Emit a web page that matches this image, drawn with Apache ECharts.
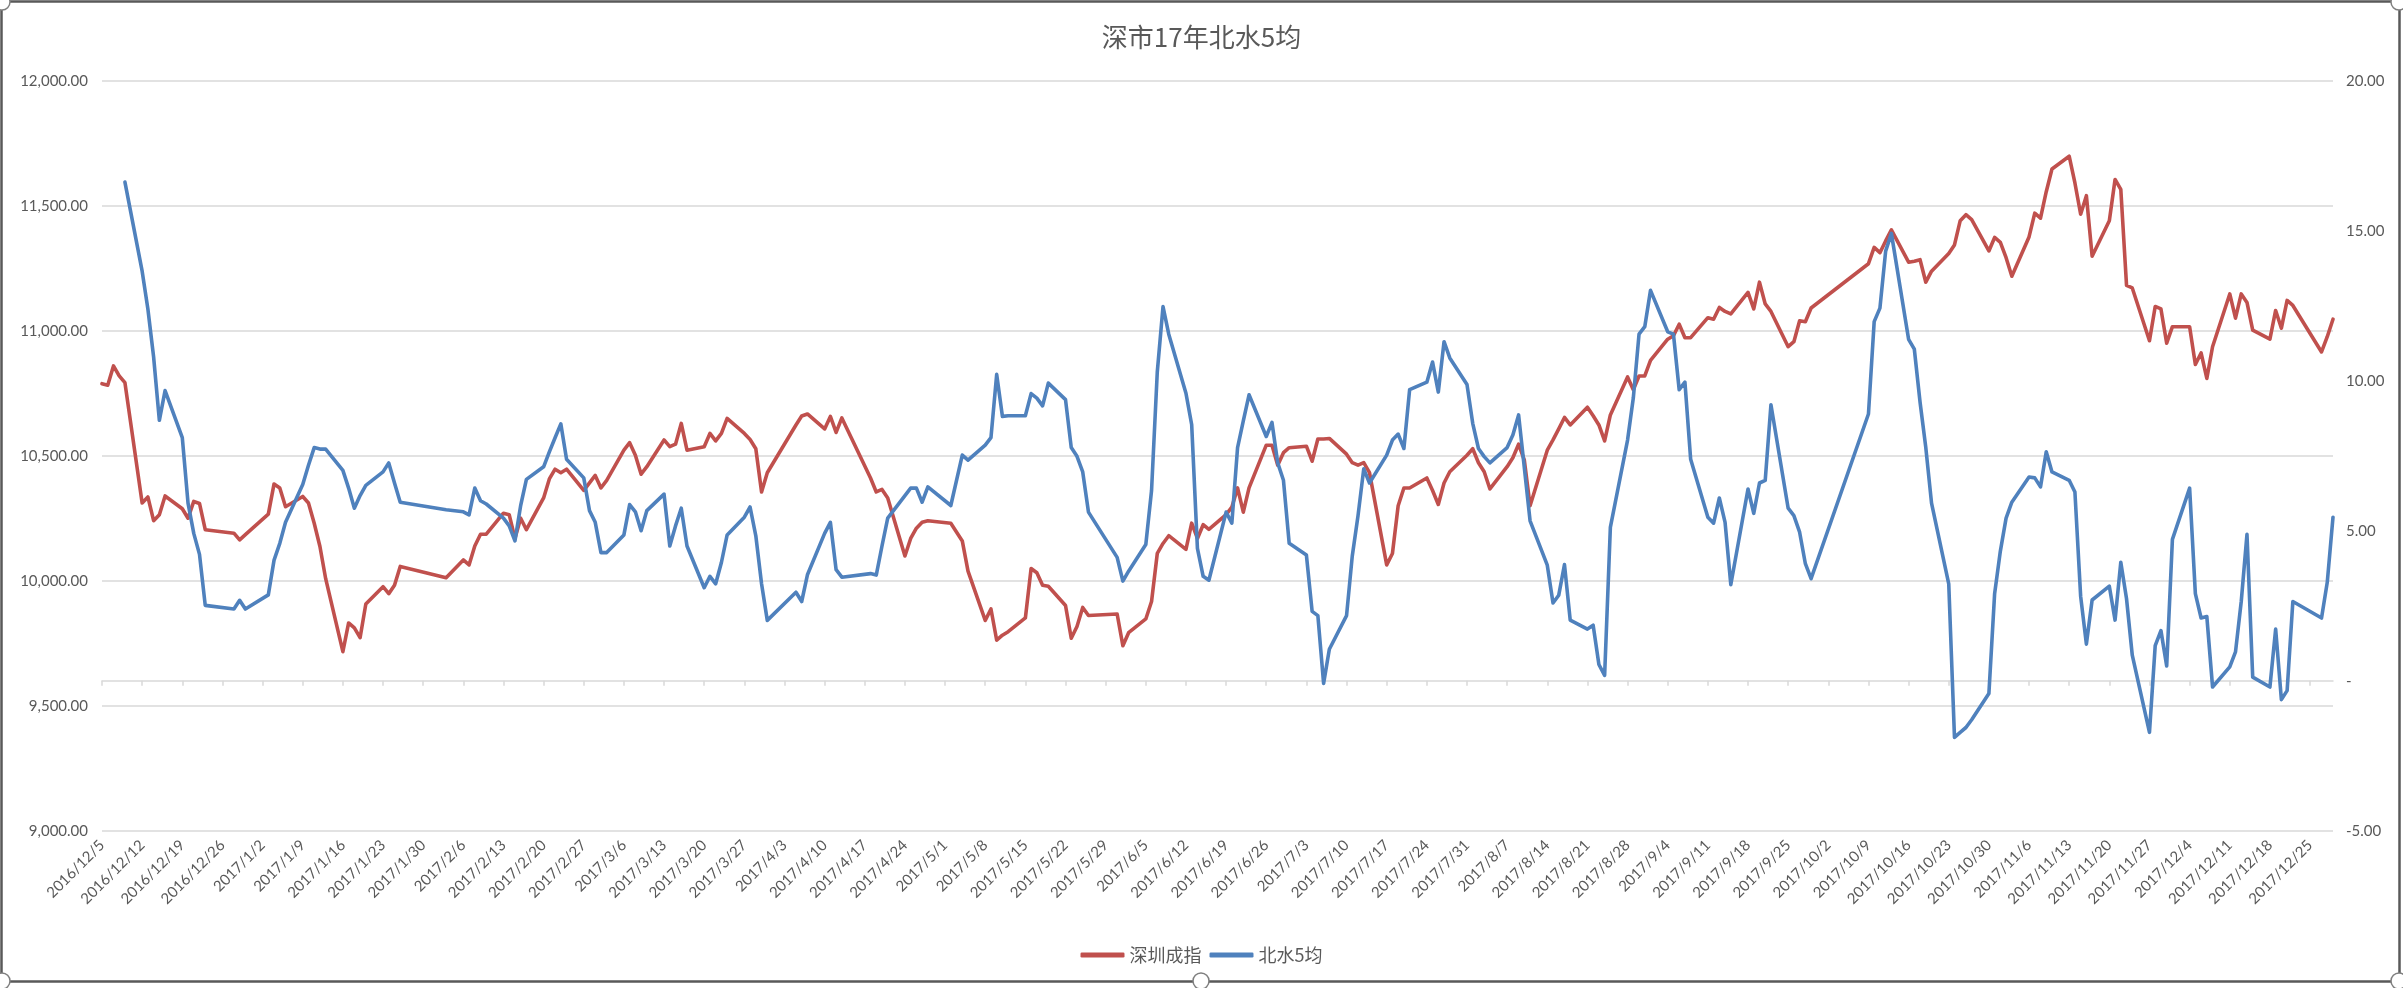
<!DOCTYPE html>
<html><head><meta charset="utf-8">
<script src="https://cdn.jsdelivr.net/npm/echarts@6/dist/echarts.min.js"></script>
<style>html,body{margin:0;padding:0;background:#fff}#c{width:2403px;height:988px}</style>
</head><body><div id="c"></div>
<script>
const chartTitle = '深市17年北水5均';
const seriesNames = ['深圳成指', '北水5均'];
const axisStart = '2016/12/5';
const axisEnd = '2017/12/29';
const tickStepDays = 7;

const dates = [
'2016/12/5','2016/12/6','2016/12/7','2016/12/8','2016/12/9','2016/12/12','2016/12/13','2016/12/14','2016/12/15','2016/12/16',
'2016/12/19','2016/12/20','2016/12/21','2016/12/22','2016/12/23','2016/12/28','2016/12/29','2016/12/30',
'2017/1/3','2017/1/4','2017/1/5','2017/1/6','2017/1/9','2017/1/10','2017/1/11','2017/1/12','2017/1/13',
'2017/1/16','2017/1/17','2017/1/18','2017/1/19','2017/1/20','2017/1/23','2017/1/24','2017/1/25','2017/1/26',
'2017/2/3','2017/2/6','2017/2/7','2017/2/8','2017/2/9','2017/2/10','2017/2/13','2017/2/14','2017/2/15','2017/2/16','2017/2/17',
'2017/2/20','2017/2/21','2017/2/22','2017/2/23','2017/2/24','2017/2/27','2017/2/28',
'2017/3/1','2017/3/2','2017/3/3','2017/3/6','2017/3/7','2017/3/8','2017/3/9','2017/3/10','2017/3/13','2017/3/14','2017/3/15','2017/3/16','2017/3/17',
'2017/3/20','2017/3/21','2017/3/22','2017/3/23','2017/3/24','2017/3/27','2017/3/28','2017/3/29','2017/3/30','2017/3/31',
'2017/4/5','2017/4/6','2017/4/7','2017/4/10','2017/4/11','2017/4/12','2017/4/13','2017/4/18','2017/4/19','2017/4/20','2017/4/21',
'2017/4/24','2017/4/25','2017/4/26','2017/4/27','2017/4/28','2017/5/2','2017/5/4','2017/5/5',
'2017/5/8','2017/5/9','2017/5/10','2017/5/11','2017/5/12','2017/5/15','2017/5/16','2017/5/17','2017/5/18','2017/5/19',
'2017/5/22','2017/5/23','2017/5/24','2017/5/25','2017/5/26','2017/5/31','2017/6/1','2017/6/2',
'2017/6/5','2017/6/6','2017/6/7','2017/6/8','2017/6/9','2017/6/12','2017/6/13','2017/6/14','2017/6/15','2017/6/16',
'2017/6/19','2017/6/20','2017/6/21','2017/6/22','2017/6/23','2017/6/26','2017/6/27','2017/6/28','2017/6/29','2017/6/30',
'2017/7/3','2017/7/4','2017/7/5','2017/7/6','2017/7/7','2017/7/10','2017/7/11','2017/7/12','2017/7/13','2017/7/14',
'2017/7/17','2017/7/18','2017/7/19','2017/7/20','2017/7/21','2017/7/24','2017/7/25','2017/7/26','2017/7/27','2017/7/28',
'2017/7/31','2017/8/1','2017/8/2','2017/8/3','2017/8/4','2017/8/7','2017/8/8','2017/8/9','2017/8/10','2017/8/11',
'2017/8/14','2017/8/15','2017/8/16','2017/8/17','2017/8/18','2017/8/21','2017/8/22','2017/8/23','2017/8/24','2017/8/25',
'2017/8/28','2017/8/29','2017/8/30','2017/8/31','2017/9/1','2017/9/4','2017/9/5','2017/9/6','2017/9/7','2017/9/8',
'2017/9/11','2017/9/12','2017/9/13','2017/9/14','2017/9/15','2017/9/18','2017/9/19','2017/9/20','2017/9/21','2017/9/22',
'2017/9/25','2017/9/26','2017/9/27','2017/9/28','2017/9/29','2017/10/9','2017/10/10','2017/10/11','2017/10/12','2017/10/13',
'2017/10/16','2017/10/17','2017/10/18','2017/10/19','2017/10/20','2017/10/23','2017/10/24','2017/10/25','2017/10/26','2017/10/27',
'2017/10/30','2017/10/31','2017/11/1','2017/11/2','2017/11/3','2017/11/6','2017/11/7','2017/11/8','2017/11/9','2017/11/10',
'2017/11/13','2017/11/14','2017/11/15','2017/11/16','2017/11/17','2017/11/20','2017/11/21','2017/11/22','2017/11/23','2017/11/24',
'2017/11/27','2017/11/28','2017/11/29','2017/11/30','2017/12/1','2017/12/4','2017/12/5','2017/12/6','2017/12/7','2017/12/8',
'2017/12/11','2017/12/12','2017/12/13','2017/12/14','2017/12/15','2017/12/18','2017/12/19','2017/12/20','2017/12/21','2017/12/22',
'2017/12/27','2017/12/28','2017/12/29'
];

const szIndex = [
10788,10782,10859,10819,10792,10311,10335,10240,10264,10339,
10288,10250,10317,10309,10204,10190,10163,10184,
10266,10387,10371,10296,10337,10311,10230,10137,10008,
9716,9831,9811,9772,9907,9976,9948,9982,10057,
10012,10083,10063,10139,10186,10186,10270,10264,10169,10250,10204,
10331,10407,10446,10432,10446,10361,10391,
10421,10371,10401,10522,10552,10502,10426,10456,10563,10536,10546,10629,10522,
10536,10589,10559,10589,10649,10589,10565,10528,10355,10432,
10623,10659,10667,10607,10657,10593,10651,10411,10355,10365,10331,
10099,10169,10210,10234,10240,10230,10159,10038,
9841,9887,9762,9782,9796,9851,10049,10032,9982,9978,
9901,9770,9817,9893,9861,9867,9740,9792,
9847,9917,10109,10149,10180,10125,10230,10169,10224,10205,
10264,10294,10371,10274,10371,10542,10542,10462,10512,10532,
10538,10478,10567,10567,10569,10506,10472,10462,10472,10432,
10063,10109,10300,10371,10371,10411,10361,10305,10391,10436,
10502,10528,10472,10436,10367,10456,10492,10546,10482,10300,
10522,10563,10607,10653,10623,10694,10660,10623,10559,10663,
10815,10764,10819,10819,10881,10966,10980,11026,10972,10972,
11052,11046,11093,11077,11067,11153,11087,11194,11107,11077,
10936,10956,11040,11036,11091,11268,11333,11312,11359,11403,
11274,11278,11284,11194,11238,11309,11343,11440,11464,11444,
11319,11373,11353,11292,11218,11375,11470,11450,11556,11647,
11698,11591,11466,11540,11298,11440,11605,11565,11181,11171,
10960,11097,11087,10950,11016,11016,10865,10911,10809,10936,
11147,11050,11147,11113,11002,10966,11081,11010,11121,11101,
10915,10976,11046
];

const northbound5 = [
null,null,null,null,16.62,13.65,12.39,10.79,8.68,9.67,
8.10,5.92,4.91,4.21,2.51,2.39,2.68,2.39,
2.86,4.02,4.58,5.28,6.54,7.18,7.77,7.72,7.72,
7.01,6.42,5.75,6.17,6.51,6.96,7.26,6.59,5.95,
5.70,5.63,5.53,6.42,6.00,5.89,5.42,5.16,4.66,5.84,6.71,
7.13,7.63,8.10,8.56,7.38,6.76,5.67,
5.28,4.27,4.27,4.86,5.87,5.63,5.00,5.67,6.22,4.49,5.16,5.75,4.49,
3.10,3.48,3.23,3.94,4.86,5.45,5.79,4.83,3.23,2.01,
2.95,2.64,3.53,4.91,5.28,3.70,3.45,3.57,3.52,4.49,5.42,
6.17,6.42,6.42,5.95,6.46,5.84,7.52,7.35,
7.85,8.10,10.21,8.81,8.83,8.83,9.57,9.42,9.16,9.92,
9.37,7.77,7.48,6.96,5.62,4.11,3.32,3.65,
4.54,6.34,10.29,12.47,11.55,9.58,8.53,4.41,3.48,3.35,
5.62,5.25,7.77,8.66,9.53,8.14,8.61,7.26,6.68,4.58,
4.19,2.31,2.17,-0.09,1.05,2.17,4.16,5.50,7.06,6.59,
7.52,8.02,8.22,7.74,9.70,9.95,10.62,9.62,11.30,10.76,
9.87,8.58,7.74,7.47,7.26,7.77,8.19,8.86,7.10,5.33,
3.85,2.59,2.85,3.87,2.02,1.72,1.85,0.54,0.18,5.11,
8.02,9.42,11.55,11.80,13.01,11.63,11.55,9.70,9.95,7.38,
5.45,5.25,6.09,5.28,3.20,6.39,5.58,6.59,6.68,9.20,
5.75,5.50,4.95,3.90,3.40,8.89,11.97,12.42,14.32,14.91,
11.38,11.05,9.28,7.77,5.92,3.23,-1.89,-1.72,-1.56,-1.30,
-0.43,2.90,4.32,5.42,5.95,6.79,6.76,6.46,7.63,6.96,
6.68,6.29,2.81,1.22,2.69,3.15,2.02,3.95,2.73,0.85,
-1.72,1.17,1.67,0.49,4.71,6.42,2.90,2.09,2.14,-0.21,
0.46,0.96,2.64,4.88,0.12,-0.21,1.72,-0.63,-0.33,2.64,
2.09,3.28,5.45
];

const leftMin = 9000, leftMax = 12000, leftStep = 500;
const rightMin = -5, rightMax = 20, rightStep = 5;

function toUTC(s) { const p = s.split('/').map(Number); return Date.UTC(p[0], p[1] - 1, p[2]); }
const DAY = 86400000;
const t0 = toUTC(axisStart);
const dayOf = s => Math.round((toUTC(s) - t0) / DAY);
const maxDay = dayOf(axisEnd);
const weekTicks = [];
for (let d = 0; d <= maxDay; d += tickStepDays) weekTicks.push(d);
function fmtDay(v) { const t = new Date(t0 + v * DAY); return t.getUTCFullYear() + '/' + (t.getUTCMonth() + 1) + '/' + t.getUTCDate(); }

const redData = dates.map((d, i) => [dayOf(d), szIndex[i]]);
const blueData = dates.map((d, i) => [dayOf(d), northbound5[i]]).filter(p => p[1] !== null);

const txt = '#595959';
const lab = { color: txt, fontFamily: 'Lato, "Liberation Sans", sans-serif', fontSize: 15 };

const chart = echarts.init(document.getElementById('c'), null, { renderer: 'canvas' });
chart.setOption({
  animation: false,
  backgroundColor: '#ffffff',
  title: {
    text: chartTitle, left: 'center', top: 19,
    textStyle: { color: txt, fontSize: 26, fontWeight: 'normal', fontFamily: '"Noto Sans CJK SC", sans-serif' }
  },
  legend: {
    data: seriesNames, left: 'center', top: 941,
    icon: 'roundRect', itemWidth: 44, itemHeight: 5, itemGap: 8,
    textStyle: { color: txt, fontSize: 18, fontFamily: '"Noto Sans CJK SC", sans-serif' }
  },
  grid: { left: 102, right: 70, top: 80.7, bottom: 157.3, containLabel: false },
  xAxis: {
    type: 'value', min: 0, max: maxDay,
    axisLine: { show: true, lineStyle: { color: '#d9d9d9', width: 1.5 } },
    axisTick: { show: true, customValues: weekTicks, length: 5, lineStyle: { color: '#d9d9d9', width: 1.5 } },
    axisLabel: Object.assign({ customValues: weekTicks, rotate: 45, margin: 12, formatter: fmtDay }, lab),
    splitLine: { show: false }
  },
  yAxis: [
    {
      type: 'value', min: leftMin, max: leftMax, interval: leftStep, position: 'left',
      axisLine: { show: false }, axisTick: { show: false },
      axisLabel: Object.assign({ margin: 14, formatter: v => v.toLocaleString('en-US', { minimumFractionDigits: 2, maximumFractionDigits: 2 }) }, lab),
      splitLine: { show: true, lineStyle: { color: '#d9d9d9', width: 1.5 } }
    },
    {
      type: 'value', min: rightMin, max: rightMax, interval: rightStep, position: 'right',
      axisLine: { show: false }, axisTick: { show: false },
      axisLabel: Object.assign({ margin: 13, formatter: v => v === 0 ? '-' : v.toFixed(2) }, lab),
      splitLine: { show: false }
    }
  ],
  series: [
    { name: seriesNames[0], type: 'line', yAxisIndex: 0, data: redData, showSymbol: false, symbol: 'none',
      lineStyle: { color: '#c0504d', width: 3.6, cap: 'round', join: 'round' }, itemStyle: { color: '#c0504d' } },
    { name: seriesNames[1], type: 'line', yAxisIndex: 1, data: blueData, showSymbol: false, symbol: 'none',
      lineStyle: { color: '#4f81bd', width: 3.6, cap: 'round', join: 'round' }, itemStyle: { color: '#4f81bd' } }
  ],
  graphic: [
    { type: 'rect', silent: true, z: 100, shape: { x: 1.5, y: 1.5, width: 2398, height: 980, r: 8 },
      style: { fill: null, stroke: '#595959', lineWidth: 2.5 } },
    { type: 'circle', silent: true, z: 101, shape: { cx: 2, cy: 2, r: 8 }, style: { fill: '#fff', stroke: '#7f7f7f', lineWidth: 1.5 } },
    { type: 'circle', silent: true, z: 101, shape: { cx: 2399, cy: 2, r: 8 }, style: { fill: '#fff', stroke: '#7f7f7f', lineWidth: 1.5 } },
    { type: 'circle', silent: true, z: 101, shape: { cx: 2, cy: 981, r: 8 }, style: { fill: '#fff', stroke: '#7f7f7f', lineWidth: 1.5 } },
    { type: 'circle', silent: true, z: 101, shape: { cx: 2399, cy: 981, r: 8 }, style: { fill: '#fff', stroke: '#7f7f7f', lineWidth: 1.5 } },
    { type: 'circle', silent: true, z: 101, shape: { cx: 1201, cy: 981, r: 8 }, style: { fill: '#fff', stroke: '#7f7f7f', lineWidth: 1.5 } }
  ]
});
</script>
</body></html>
